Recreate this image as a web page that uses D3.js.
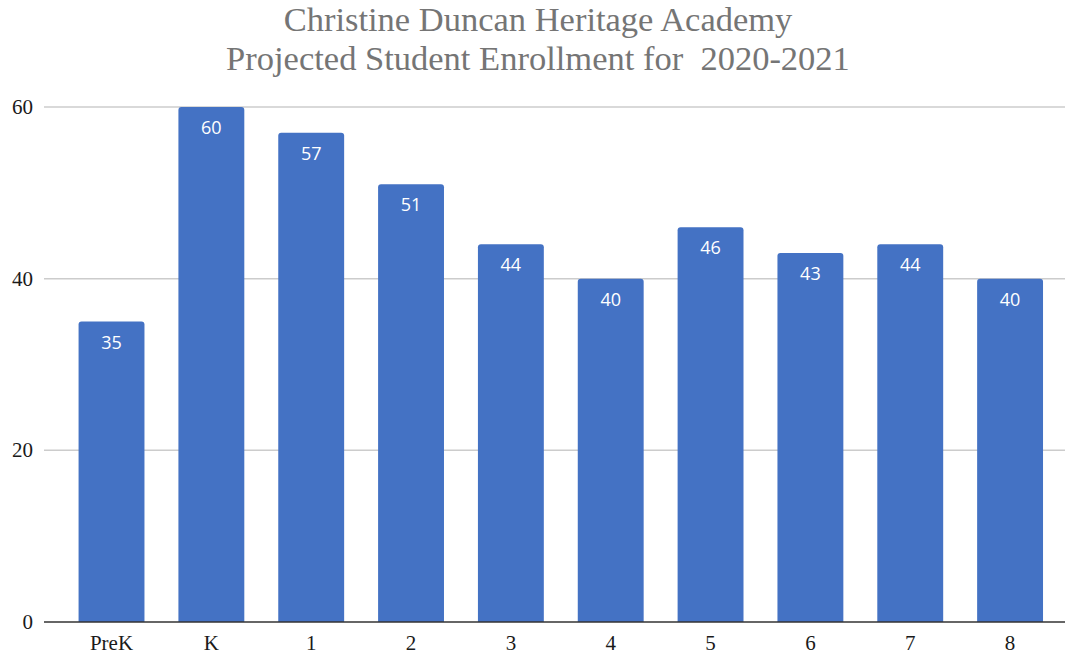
<!DOCTYPE html>
<html><head><meta charset="utf-8">
<script src="https://cdn.jsdelivr.net/npm/d3@7"></script>
<style>body{margin:0;background:#fff}svg{display:block}</style>
</head><body>
<svg id="c" width="1071" height="655"></svg>
<script>
const categories = ["PreK","K","1","2","3","4","5","6","7","8"];
const values = [35,60,57,51,44,40,46,43,44,40];
const yTicks = [0,20,40,60];
const titleLines = ["Christine Duncan Heritage Academy","Projected Student Enrollment for  2020-2021"];

const svg = d3.select("#c");
const x = d3.scaleBand().domain(categories).range([61.6,1060]).paddingInner(0.34).paddingOuter(0.17);
const y = d3.scaleLinear().domain([0,60]).range([622,107]);

const title = svg.append("text").attr("text-anchor","middle")
  .attr("font-family","'Liberation Serif','Times New Roman',serif").attr("font-size",34.5)
  .attr("fill","#757575").style("white-space","pre");
title.selectAll("tspan").data(titleLines).join("tspan")
  .attr("x",538).attr("y",(d,i)=>31+i*38.6).text(d=>d);

// grid
svg.append("g").selectAll("line").data(yTicks.filter(d=>d>0)).join("line")
  .attr("x1",44).attr("x2",1065).attr("y1",d=>y(d)).attr("y2",d=>y(d))
  .attr("stroke","#cccccc").attr("stroke-width",1.5);

svg.append("g").selectAll("text").data(yTicks).join("text")
  .attr("x",33).attr("y",d=>y(d)+7).attr("text-anchor","end")
  .attr("font-family","'Liberation Serif','Times New Roman',serif").attr("font-size",21)
  .attr("fill","#1a1a1a").text(d=>d);

// bars with rounded tops
const r = 3;
svg.append("g").selectAll("path").data(values).join("path")
  .attr("d",(d,i)=>{
    const x0 = x(categories[i]), w = x.bandwidth(), t = y(d), b = y(0);
    return `M${x0},${b}V${t+r}Q${x0},${t} ${x0+r},${t}H${x0+w-r}Q${x0+w},${t} ${x0+w},${t+r}V${b}Z`;
  }).attr("fill","#4472c4");

svg.append("g").selectAll("text").data(values).join("text")
  .attr("x",(d,i)=>x(categories[i])+x.bandwidth()/2).attr("y",d=>y(d)+27)
  .attr("text-anchor","middle").attr("font-family","'Open Sans','Noto Sans',sans-serif")
  .attr("font-size",18).attr("fill","#fff").text(d=>d);

// baseline
svg.append("line").attr("x1",44).attr("x2",1065).attr("y1",y(0)).attr("y2",y(0))
  .attr("stroke","#333").attr("stroke-width",1.5);

svg.append("g").selectAll("text").data(categories).join("text")
  .attr("x",d=>x(d)+x.bandwidth()/2).attr("y",650).attr("text-anchor","middle")
  .attr("font-family","'Liberation Serif','Times New Roman',serif").attr("font-size",21)
  .attr("fill","#1a1a1a").text(d=>d);
</script>
</body></html>
